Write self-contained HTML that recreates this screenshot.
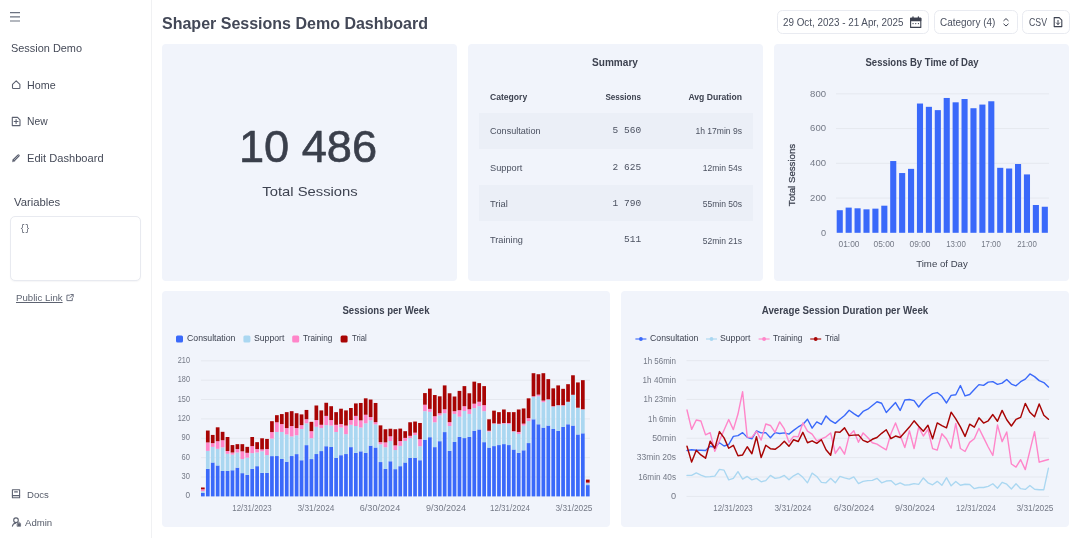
<!DOCTYPE html><html lang="en"><head><meta charset="utf-8"><title>Shaper Sessions Demo Dashboard</title><style>
*{box-sizing:border-box;margin:0;padding:0}
html,body{width:1080px;height:538px;overflow:hidden;background:#fff}
body{font-family:"Liberation Sans", sans-serif;color:#454a58;position:relative}
.t{position:absolute;white-space:nowrap}
.side{position:absolute;left:0;top:0;width:152px;height:538px;background:#fff;border-right:1px solid #f0f1f3}
.card{position:absolute;background:#f1f4fb;border-radius:4px;box-shadow:none}
.btn{position:absolute;top:10px;height:24px;border:1px solid #e9ebf1;border-radius:5.5px;background:#fff}
.abs{position:absolute}
svg{position:absolute;left:0;top:0;overflow:visible}
</style></head><body>
<div class="side">
<svg width="152" height="538" viewBox="0 0 152 538" fill="none" stroke="#5c6170" stroke-width="1.1" stroke-linecap="round" stroke-linejoin="round">
<path d="M10 12.6H20M10 16.8H20M10 21H20" stroke="#6b7280" stroke-width="1.2" stroke-linecap="butt"/>
<path d="M12.5 84.3L16.2 80.9L19.9 84.3V87.7Q19.9 88.5 19.1 88.5H13.3Q12.5 88.5 12.5 87.7Z"/>
<path d="M12.3 117.4H17.6L20 119.8V125.6H12.3Z"/><path d="M16.1 119.6V123.4M14.2 121.5H18"/>
<path d="M14 160L18.4 155.6" stroke-width="2.7"/><path d="M14 160L18.4 155.6" stroke="#b4b8c2" stroke-width="0.8"/><path d="M12.5 161.5L13 159.6L14.4 161Z" fill="#5c6170" stroke-width="0.5"/>
<path d="M69.5 295.2H66.9V300.6H72.3V298.2M70.8 294.5H73.2V296.9M73 294.7L69.7 298" stroke-width="0.95" stroke="#666c7a"/>
<path d="M12.4 489.8H19.6V497.8H12.4Z"/><path d="M12.4 495.6H19.6M14.6 491.9H17.4"/>
<circle cx="16" cy="520.2" r="2.3"/><path d="M12.4 526.2C12.8 524.2 14 523.2 15.6 523.2"/><path d="M17.4 523.6H20.6V526.3H17.4Z" fill="#5c6170" stroke-width="0.6"/><path d="M18.2 523.4V522.9a0.8 0.8 0 0 1 1.6 0V523.4" stroke-width="0.7"/>
</svg>
<div class="t" style="top:42.81px;font-size:11.8px;line-height:11.8px;color:#454a58;left:11.00px;transform:scaleX(0.9255);transform-origin:left center;">Session Demo</div>
<div class="t" style="top:79.99px;font-size:11px;line-height:11px;color:#454a58;left:27.20px;transform:scaleX(0.9747);transform-origin:left center;">Home</div>
<div class="t" style="top:116.49px;font-size:11px;line-height:11px;color:#454a58;left:27.20px;transform:scaleX(0.9357);transform-origin:left center;">New</div>
<div class="t" style="top:152.89px;font-size:11px;line-height:11px;color:#454a58;left:27.20px;transform:scaleX(1.0102);transform-origin:left center;">Edit Dashboard</div>
<div class="t" style="top:196.77px;font-size:11.5px;line-height:11.5px;color:#454a58;left:13.60px;transform:scaleX(0.9810);transform-origin:left center;">Variables</div>
<div class="abs" style="left:10px;top:216px;width:131px;height:64.5px;border:1px solid #e8eaf0;border-radius:5px;background:#fff;box-shadow:0 1px 1.5px rgba(20,30,60,0.04)"></div>
<div class="t" style="top:223.81px;font-size:9.2px;line-height:9.2px;color:#4b5160;font-family:'Liberation Mono', monospace;left:20.40px;transform:scaleX(0.8884);transform-origin:left center;">{}</div>
<div class="t" style="top:293.17px;font-size:9.6px;line-height:9.6px;color:#5d6371;left:16.10px;text-decoration:underline;text-underline-offset:1.4px;text-decoration-thickness:0.8px;transform:scaleX(1.0042);transform-origin:left center;">Public Link</div>
<div class="t" style="top:489.67px;font-size:9.6px;line-height:9.6px;color:#555b69;left:27.10px;transform:scaleX(0.9973);transform-origin:left center;">Docs</div>
<div class="t" style="top:517.67px;font-size:9.6px;line-height:9.6px;color:#555b69;left:24.60px;transform:scaleX(0.9999);transform-origin:left center;">Admin</div>
</div>
<div class="t" style="top:15.86px;font-size:16px;line-height:16px;color:#434857;font-weight:700;left:162.30px;transform:scaleX(1.0005);transform-origin:left center;">Shaper Sessions Demo Dashboard</div>
<div class="btn" style="left:777px;width:152px"></div>
<div class="btn" style="left:934px;width:84px"></div>
<div class="btn" style="left:1022px;width:47.5px"></div>
<div class="t" style="top:17.98px;font-size:10.3px;line-height:10.3px;color:#4b5160;left:783.00px;transform:scaleX(0.9567);transform-origin:left center;">29 Oct, 2023 - 21 Apr, 2025</div>
<div class="t" style="top:17.98px;font-size:10.3px;line-height:10.3px;color:#4b5160;left:940.00px;transform:scaleX(0.9662);transform-origin:left center;">Category (4)</div>
<div class="t" style="top:17.98px;font-size:10.3px;line-height:10.3px;color:#4b5160;left:1029.00px;transform:scaleX(0.8496);transform-origin:left center;">CSV</div>
<svg width="1080" height="40" viewBox="0 0 1080 40" fill="none" stroke="#3d4250" stroke-width="1.1" stroke-linecap="round" stroke-linejoin="round">
<path d="M910.6 18.4H920.8V27.4H910.6Z"/><path d="M910.6 20.6H920.8V18.4H910.6Z" fill="#3d4250"/><path d="M913 16.9V18.6M918.4 16.9V18.6" stroke-width="1.3"/><path d="M913 23.6h0.1M915.7 23.6h0.1M918.4 23.6h0.1" stroke-width="1.2"/>
<path d="M1003.8 20.6L1006 18.6L1008.2 20.6M1003.8 24L1006 26L1008.2 24" stroke-width="1"/>
<path d="M1054.2 17.6H1059.2L1061.8 20.2V26.6H1054.2Z"/><path d="M1058 20.4V24.4M1056.4 22.9L1058 24.5L1059.6 22.9" stroke-width="1"/>
</svg>
<div class="card" style="left:162px;top:44px;width:295px;height:237px"></div>
<div class="card" style="left:468px;top:44px;width:295px;height:237px"></div>
<div class="card" style="left:774px;top:44px;width:295px;height:237px"></div>
<div class="card" style="left:162px;top:291px;width:448px;height:236px"></div>
<div class="card" style="left:621px;top:291px;width:448px;height:236px"></div>
<div class="t" style="top:125.15px;font-size:44px;line-height:44px;color:#3a3f4b;left:108.30px;width:400px;text-align:center;-webkit-text-stroke:0.6px #3a3f4b;transform:scaleX(1.0269);transform-origin:center center;">10 486</div>
<div class="t" style="top:185.43px;font-size:13.2px;line-height:13.2px;color:#3d4250;left:110.00px;width:400px;text-align:center;transform:scaleX(1.1231);transform-origin:center center;">Total Sessions</div>
<div class="t" style="top:57.73px;font-size:10px;line-height:10px;color:#3d4250;font-weight:700;left:415.30px;width:400px;text-align:center;transform:scaleX(1.0071);transform-origin:center center;">Summary</div>
<div class="abs" style="left:479px;top:112.5px;width:274px;height:36.4px;background:#ebeff7"></div>
<div class="abs" style="left:479px;top:185px;width:274px;height:36.4px;background:#ebeff7"></div>
<div class="t" style="top:91.64px;font-size:9.4px;line-height:9.4px;color:#3d4250;font-weight:700;left:489.70px;transform:scaleX(0.9153);transform-origin:left center;">Category</div>
<div class="t" style="top:91.64px;font-size:9.4px;line-height:9.4px;color:#3d4250;font-weight:700;left:241.10px;width:400px;text-align:right;transform:scaleX(0.8647);transform-origin:right center;">Sessions</div>
<div class="t" style="top:91.64px;font-size:9.4px;line-height:9.4px;color:#3d4250;font-weight:700;left:341.60px;width:400px;text-align:right;transform:scaleX(0.9160);transform-origin:right center;">Avg Duration</div>
<div class="t" style="top:126.17px;font-size:9.6px;line-height:9.6px;color:#4b5160;left:489.70px;transform:scaleX(0.9467);transform-origin:left center;">Consultation</div>
<div class="t" style="top:126.26px;font-size:9.5px;line-height:9.5px;color:#4b5160;font-family:'Liberation Mono', monospace;left:241.10px;width:400px;text-align:right;">5 560</div>
<div class="t" style="top:126.34px;font-size:9.4px;line-height:9.4px;color:#4b5160;left:341.60px;width:400px;text-align:right;transform:scaleX(0.9123);transform-origin:right center;">1h 17min 9s</div>
<div class="t" style="top:162.57px;font-size:9.6px;line-height:9.6px;color:#4b5160;left:489.70px;transform:scaleX(0.9610);transform-origin:left center;">Support</div>
<div class="t" style="top:162.66px;font-size:9.5px;line-height:9.5px;color:#4b5160;font-family:'Liberation Mono', monospace;left:241.10px;width:400px;text-align:right;">2 625</div>
<div class="t" style="top:162.74px;font-size:9.4px;line-height:9.4px;color:#4b5160;left:341.60px;width:400px;text-align:right;transform:scaleX(0.9083);transform-origin:right center;">12min 54s</div>
<div class="t" style="top:198.97px;font-size:9.6px;line-height:9.6px;color:#4b5160;left:489.70px;transform:scaleX(0.9720);transform-origin:left center;">Trial</div>
<div class="t" style="top:199.06px;font-size:9.5px;line-height:9.5px;color:#4b5160;font-family:'Liberation Mono', monospace;left:241.10px;width:400px;text-align:right;">1 790</div>
<div class="t" style="top:199.14px;font-size:9.4px;line-height:9.4px;color:#4b5160;left:341.60px;width:400px;text-align:right;transform:scaleX(0.9083);transform-origin:right center;">55min 50s</div>
<div class="t" style="top:235.37px;font-size:9.6px;line-height:9.6px;color:#4b5160;left:489.70px;transform:scaleX(0.9588);transform-origin:left center;">Training</div>
<div class="t" style="top:235.46px;font-size:9.5px;line-height:9.5px;color:#4b5160;font-family:'Liberation Mono', monospace;left:241.10px;width:400px;text-align:right;">511</div>
<div class="t" style="top:235.54px;font-size:9.4px;line-height:9.4px;color:#4b5160;left:341.60px;width:400px;text-align:right;transform:scaleX(0.9083);transform-origin:right center;">52min 21s</div>
<div class="t" style="top:57.73px;font-size:10px;line-height:10px;color:#3d4250;font-weight:700;left:721.50px;width:400px;text-align:center;transform:scaleX(0.9516);transform-origin:center center;">Sessions By Time of Day</div>
<svg width="1080" height="538" viewBox="0 0 1080 538"><path d="M836 198.05H1049" stroke="#e5e8ef" stroke-width="1"/><path d="M836 163.30H1049" stroke="#e5e8ef" stroke-width="1"/><path d="M836 128.55H1049" stroke="#e5e8ef" stroke-width="1"/><path d="M836 93.80H1049" stroke="#e5e8ef" stroke-width="1"/><rect x="836.70" y="210.21" width="6.1" height="22.59" fill="#3a69fa"/><rect x="845.62" y="207.61" width="6.1" height="25.19" fill="#3a69fa"/><rect x="854.53" y="208.30" width="6.1" height="24.50" fill="#3a69fa"/><rect x="863.45" y="209.34" width="6.1" height="23.46" fill="#3a69fa"/><rect x="872.36" y="208.65" width="6.1" height="24.15" fill="#3a69fa"/><rect x="881.28" y="205.70" width="6.1" height="27.10" fill="#3a69fa"/><rect x="890.19" y="161.04" width="6.1" height="71.76" fill="#3a69fa"/><rect x="899.11" y="173.03" width="6.1" height="59.77" fill="#3a69fa"/><rect x="908.02" y="168.86" width="6.1" height="63.94" fill="#3a69fa"/><rect x="916.94" y="103.53" width="6.1" height="129.27" fill="#3a69fa"/><rect x="925.85" y="106.83" width="6.1" height="125.97" fill="#3a69fa"/><rect x="934.77" y="110.13" width="6.1" height="122.67" fill="#3a69fa"/><rect x="943.68" y="97.97" width="6.1" height="134.83" fill="#3a69fa"/><rect x="952.60" y="102.31" width="6.1" height="130.49" fill="#3a69fa"/><rect x="961.51" y="99.01" width="6.1" height="133.79" fill="#3a69fa"/><rect x="970.43" y="108.22" width="6.1" height="124.58" fill="#3a69fa"/><rect x="979.34" y="104.57" width="6.1" height="128.23" fill="#3a69fa"/><rect x="988.25" y="101.27" width="6.1" height="131.53" fill="#3a69fa"/><rect x="997.17" y="167.82" width="6.1" height="64.98" fill="#3a69fa"/><rect x="1006.09" y="168.51" width="6.1" height="64.29" fill="#3a69fa"/><rect x="1015.00" y="164.00" width="6.1" height="68.80" fill="#3a69fa"/><rect x="1023.91" y="174.42" width="6.1" height="58.38" fill="#3a69fa"/><rect x="1032.83" y="205.00" width="6.1" height="27.80" fill="#3a69fa"/><rect x="1041.75" y="206.74" width="6.1" height="26.06" fill="#3a69fa"/></svg>
<div class="t" style="top:228.60px;font-size:8.5px;line-height:8.5px;color:#747986;left:425.60px;width:400px;text-align:right;transform:scaleX(1.0772);transform-origin:right center;">0</div>
<div class="t" style="top:193.85px;font-size:8.5px;line-height:8.5px;color:#747986;left:425.60px;width:400px;text-align:right;transform:scaleX(1.1207);transform-origin:right center;">200</div>
<div class="t" style="top:159.10px;font-size:8.5px;line-height:8.5px;color:#747986;left:425.60px;width:400px;text-align:right;transform:scaleX(1.1207);transform-origin:right center;">400</div>
<div class="t" style="top:124.35px;font-size:8.5px;line-height:8.5px;color:#747986;left:425.60px;width:400px;text-align:right;transform:scaleX(1.1207);transform-origin:right center;">600</div>
<div class="t" style="top:89.60px;font-size:8.5px;line-height:8.5px;color:#747986;left:425.60px;width:400px;text-align:right;transform:scaleX(1.1207);transform-origin:right center;">800</div>
<div class="t" style="top:240.40px;font-size:8.5px;line-height:8.5px;color:#747986;left:648.66px;width:400px;text-align:center;transform:scaleX(0.9868);transform-origin:center center;">01:00</div>
<div class="t" style="top:240.40px;font-size:8.5px;line-height:8.5px;color:#747986;left:684.33px;width:400px;text-align:center;transform:scaleX(0.9868);transform-origin:center center;">05:00</div>
<div class="t" style="top:240.40px;font-size:8.5px;line-height:8.5px;color:#747986;left:719.99px;width:400px;text-align:center;transform:scaleX(0.9868);transform-origin:center center;">09:00</div>
<div class="t" style="top:240.40px;font-size:8.5px;line-height:8.5px;color:#747986;left:755.64px;width:400px;text-align:center;transform:scaleX(0.9257);transform-origin:center center;">13:00</div>
<div class="t" style="top:240.40px;font-size:8.5px;line-height:8.5px;color:#747986;left:791.30px;width:400px;text-align:center;transform:scaleX(0.9257);transform-origin:center center;">17:00</div>
<div class="t" style="top:240.40px;font-size:8.5px;line-height:8.5px;color:#747986;left:826.96px;width:400px;text-align:center;transform:scaleX(0.9257);transform-origin:center center;">21:00</div>
<div class="t" style="top:258.90px;font-size:9.8px;line-height:9.8px;color:#3d4250;left:742.20px;width:400px;text-align:center;transform:scaleX(0.9837);transform-origin:center center;">Time of Day</div>
<div class="t" style="left:692px;top:169.3px;width:200px;text-align:center;font-size:9.8px;line-height:12px;color:#3d4250;-webkit-text-stroke:0.25px #3d4250;transform:rotate(-90deg) scaleX(0.9878)">Total Sessions</div>
<div class="t" style="top:305.54px;font-size:10px;line-height:10px;color:#3d4250;font-weight:700;left:186.00px;width:400px;text-align:center;transform:scaleX(0.9562);transform-origin:center center;">Sessions per Week</div>
<svg width="1080" height="538" viewBox="0 0 1080 538"><path d="M201 477.03H590" stroke="#e5e8ef" stroke-width="1"/><path d="M201 457.66H590" stroke="#e5e8ef" stroke-width="1"/><path d="M201 438.29H590" stroke="#e5e8ef" stroke-width="1"/><path d="M201 418.92H590" stroke="#e5e8ef" stroke-width="1"/><path d="M201 399.54H590" stroke="#e5e8ef" stroke-width="1"/><path d="M201 380.17H590" stroke="#e5e8ef" stroke-width="1"/><path d="M201 360.80H590" stroke="#e5e8ef" stroke-width="1"/><rect x="201.00" y="492.98" width="3.7" height="3.42" fill="#3a69fa"/><rect x="201.00" y="491.23" width="3.7" height="1.74" fill="#aad7f1"/><rect x="201.00" y="489.30" width="3.7" height="1.94" fill="#ff85c9"/><rect x="201.00" y="487.49" width="3.7" height="1.81" fill="#a80404"/><rect x="205.94" y="468.89" width="3.7" height="27.51" fill="#3a69fa"/><rect x="205.94" y="450.88" width="3.7" height="18.02" fill="#aad7f1"/><rect x="205.94" y="442.42" width="3.7" height="8.46" fill="#ff85c9"/><rect x="205.94" y="430.54" width="3.7" height="11.88" fill="#a80404"/><rect x="210.87" y="462.50" width="3.7" height="33.90" fill="#3a69fa"/><rect x="210.87" y="446.87" width="3.7" height="15.63" fill="#aad7f1"/><rect x="210.87" y="443.13" width="3.7" height="3.75" fill="#ff85c9"/><rect x="210.87" y="434.93" width="3.7" height="8.20" fill="#a80404"/><rect x="215.81" y="465.47" width="3.7" height="30.93" fill="#3a69fa"/><rect x="215.81" y="448.81" width="3.7" height="16.66" fill="#aad7f1"/><rect x="215.81" y="441.19" width="3.7" height="7.62" fill="#ff85c9"/><rect x="215.81" y="427.31" width="3.7" height="13.88" fill="#a80404"/><rect x="220.74" y="470.96" width="3.7" height="25.44" fill="#3a69fa"/><rect x="220.74" y="447.33" width="3.7" height="23.63" fill="#aad7f1"/><rect x="220.74" y="440.22" width="3.7" height="7.10" fill="#ff85c9"/><rect x="220.74" y="431.83" width="3.7" height="8.39" fill="#a80404"/><rect x="225.68" y="470.96" width="3.7" height="25.44" fill="#3a69fa"/><rect x="225.68" y="453.78" width="3.7" height="17.18" fill="#aad7f1"/><rect x="225.68" y="451.01" width="3.7" height="2.78" fill="#ff85c9"/><rect x="225.68" y="437.00" width="3.7" height="14.01" fill="#a80404"/><rect x="230.61" y="470.25" width="3.7" height="26.15" fill="#3a69fa"/><rect x="230.61" y="454.62" width="3.7" height="15.63" fill="#aad7f1"/><rect x="230.61" y="452.49" width="3.7" height="2.13" fill="#ff85c9"/><rect x="230.61" y="445.07" width="3.7" height="7.43" fill="#a80404"/><rect x="235.54" y="467.67" width="3.7" height="28.73" fill="#3a69fa"/><rect x="235.54" y="452.49" width="3.7" height="15.17" fill="#aad7f1"/><rect x="235.54" y="449.07" width="3.7" height="3.42" fill="#ff85c9"/><rect x="235.54" y="444.16" width="3.7" height="4.91" fill="#a80404"/><rect x="240.48" y="473.15" width="3.7" height="23.25" fill="#3a69fa"/><rect x="240.48" y="459.08" width="3.7" height="14.08" fill="#aad7f1"/><rect x="240.48" y="451.33" width="3.7" height="7.75" fill="#ff85c9"/><rect x="240.48" y="444.16" width="3.7" height="7.17" fill="#a80404"/><rect x="245.41" y="474.83" width="3.7" height="21.57" fill="#3a69fa"/><rect x="245.41" y="457.66" width="3.7" height="17.18" fill="#aad7f1"/><rect x="245.41" y="452.82" width="3.7" height="4.84" fill="#ff85c9"/><rect x="245.41" y="446.87" width="3.7" height="5.94" fill="#a80404"/><rect x="250.35" y="468.89" width="3.7" height="27.51" fill="#3a69fa"/><rect x="250.35" y="453.14" width="3.7" height="15.76" fill="#aad7f1"/><rect x="250.35" y="446.10" width="3.7" height="7.04" fill="#ff85c9"/><rect x="250.35" y="437.00" width="3.7" height="9.10" fill="#a80404"/><rect x="255.28" y="466.18" width="3.7" height="30.22" fill="#3a69fa"/><rect x="255.28" y="452.49" width="3.7" height="13.69" fill="#aad7f1"/><rect x="255.28" y="449.07" width="3.7" height="3.42" fill="#ff85c9"/><rect x="255.28" y="442.16" width="3.7" height="6.91" fill="#a80404"/><rect x="260.22" y="472.90" width="3.7" height="23.50" fill="#3a69fa"/><rect x="260.22" y="451.33" width="3.7" height="21.57" fill="#aad7f1"/><rect x="260.22" y="449.39" width="3.7" height="1.94" fill="#ff85c9"/><rect x="260.22" y="438.29" width="3.7" height="11.11" fill="#a80404"/><rect x="265.15" y="472.90" width="3.7" height="23.50" fill="#3a69fa"/><rect x="265.15" y="455.08" width="3.7" height="17.82" fill="#aad7f1"/><rect x="265.15" y="449.07" width="3.7" height="6.01" fill="#ff85c9"/><rect x="265.15" y="438.93" width="3.7" height="10.14" fill="#a80404"/><rect x="270.09" y="456.11" width="3.7" height="40.29" fill="#3a69fa"/><rect x="270.09" y="438.55" width="3.7" height="17.56" fill="#aad7f1"/><rect x="270.09" y="432.09" width="3.7" height="6.46" fill="#ff85c9"/><rect x="270.09" y="421.18" width="3.7" height="10.91" fill="#a80404"/><rect x="275.02" y="456.04" width="3.7" height="40.36" fill="#3a69fa"/><rect x="275.02" y="431.96" width="3.7" height="24.08" fill="#aad7f1"/><rect x="275.02" y="422.27" width="3.7" height="9.69" fill="#ff85c9"/><rect x="275.02" y="415.17" width="3.7" height="7.10" fill="#a80404"/><rect x="279.96" y="459.01" width="3.7" height="37.39" fill="#3a69fa"/><rect x="279.96" y="431.96" width="3.7" height="27.05" fill="#aad7f1"/><rect x="279.96" y="424.08" width="3.7" height="7.88" fill="#ff85c9"/><rect x="279.96" y="414.07" width="3.7" height="10.01" fill="#a80404"/><rect x="284.89" y="461.73" width="3.7" height="34.67" fill="#3a69fa"/><rect x="284.89" y="434.48" width="3.7" height="27.25" fill="#aad7f1"/><rect x="284.89" y="428.08" width="3.7" height="6.39" fill="#ff85c9"/><rect x="284.89" y="412.14" width="3.7" height="15.95" fill="#a80404"/><rect x="289.83" y="456.04" width="3.7" height="40.36" fill="#3a69fa"/><rect x="289.83" y="436.41" width="3.7" height="19.63" fill="#aad7f1"/><rect x="289.83" y="426.02" width="3.7" height="10.40" fill="#ff85c9"/><rect x="289.83" y="411.17" width="3.7" height="14.85" fill="#a80404"/><rect x="294.76" y="454.11" width="3.7" height="42.29" fill="#3a69fa"/><rect x="294.76" y="435.25" width="3.7" height="18.85" fill="#aad7f1"/><rect x="294.76" y="428.08" width="3.7" height="7.17" fill="#ff85c9"/><rect x="294.76" y="413.23" width="3.7" height="14.85" fill="#a80404"/><rect x="299.70" y="460.24" width="3.7" height="36.16" fill="#3a69fa"/><rect x="299.70" y="428.99" width="3.7" height="31.25" fill="#aad7f1"/><rect x="299.70" y="425.11" width="3.7" height="3.87" fill="#ff85c9"/><rect x="299.70" y="414.40" width="3.7" height="10.72" fill="#a80404"/><rect x="304.63" y="445.13" width="3.7" height="51.27" fill="#3a69fa"/><rect x="304.63" y="423.31" width="3.7" height="21.82" fill="#aad7f1"/><rect x="304.63" y="419.17" width="3.7" height="4.13" fill="#ff85c9"/><rect x="304.63" y="409.94" width="3.7" height="9.23" fill="#a80404"/><rect x="309.57" y="459.08" width="3.7" height="37.32" fill="#3a69fa"/><rect x="309.57" y="438.22" width="3.7" height="20.86" fill="#aad7f1"/><rect x="309.57" y="431.18" width="3.7" height="7.04" fill="#ff85c9"/><rect x="309.57" y="421.82" width="3.7" height="9.36" fill="#a80404"/><rect x="314.50" y="454.04" width="3.7" height="42.36" fill="#3a69fa"/><rect x="314.50" y="426.73" width="3.7" height="27.31" fill="#aad7f1"/><rect x="314.50" y="420.08" width="3.7" height="6.65" fill="#ff85c9"/><rect x="314.50" y="405.49" width="3.7" height="14.59" fill="#a80404"/><rect x="319.44" y="451.07" width="3.7" height="45.33" fill="#3a69fa"/><rect x="319.44" y="428.08" width="3.7" height="22.99" fill="#aad7f1"/><rect x="319.44" y="424.79" width="3.7" height="3.29" fill="#ff85c9"/><rect x="319.44" y="410.39" width="3.7" height="14.40" fill="#a80404"/><rect x="324.38" y="446.23" width="3.7" height="50.17" fill="#3a69fa"/><rect x="324.38" y="425.11" width="3.7" height="21.11" fill="#aad7f1"/><rect x="324.38" y="415.88" width="3.7" height="9.23" fill="#ff85c9"/><rect x="324.38" y="402.77" width="3.7" height="13.11" fill="#a80404"/><rect x="329.31" y="447.00" width="3.7" height="49.40" fill="#3a69fa"/><rect x="329.31" y="425.57" width="3.7" height="21.44" fill="#aad7f1"/><rect x="329.31" y="420.08" width="3.7" height="5.49" fill="#ff85c9"/><rect x="329.31" y="406.20" width="3.7" height="13.88" fill="#a80404"/><rect x="334.25" y="457.98" width="3.7" height="38.42" fill="#3a69fa"/><rect x="334.25" y="431.96" width="3.7" height="26.02" fill="#aad7f1"/><rect x="334.25" y="424.79" width="3.7" height="7.17" fill="#ff85c9"/><rect x="334.25" y="412.14" width="3.7" height="12.66" fill="#a80404"/><rect x="339.18" y="455.20" width="3.7" height="41.20" fill="#3a69fa"/><rect x="339.18" y="427.50" width="3.7" height="27.70" fill="#aad7f1"/><rect x="339.18" y="424.08" width="3.7" height="3.42" fill="#ff85c9"/><rect x="339.18" y="408.71" width="3.7" height="15.37" fill="#a80404"/><rect x="344.12" y="454.04" width="3.7" height="42.36" fill="#3a69fa"/><rect x="344.12" y="434.15" width="3.7" height="19.89" fill="#aad7f1"/><rect x="344.12" y="425.57" width="3.7" height="8.59" fill="#ff85c9"/><rect x="344.12" y="410.39" width="3.7" height="15.17" fill="#a80404"/><rect x="349.05" y="447.13" width="3.7" height="49.27" fill="#3a69fa"/><rect x="349.05" y="424.79" width="3.7" height="22.34" fill="#aad7f1"/><rect x="349.05" y="420.08" width="3.7" height="4.71" fill="#ff85c9"/><rect x="349.05" y="408.00" width="3.7" height="12.07" fill="#a80404"/><rect x="353.99" y="452.82" width="3.7" height="43.58" fill="#3a69fa"/><rect x="353.99" y="426.02" width="3.7" height="26.80" fill="#aad7f1"/><rect x="353.99" y="415.88" width="3.7" height="10.14" fill="#ff85c9"/><rect x="353.99" y="403.42" width="3.7" height="12.46" fill="#a80404"/><rect x="358.92" y="451.33" width="3.7" height="45.07" fill="#3a69fa"/><rect x="358.92" y="427.50" width="3.7" height="23.83" fill="#aad7f1"/><rect x="358.92" y="420.34" width="3.7" height="7.17" fill="#ff85c9"/><rect x="358.92" y="402.97" width="3.7" height="17.37" fill="#a80404"/><rect x="363.86" y="452.82" width="3.7" height="43.58" fill="#3a69fa"/><rect x="363.86" y="423.31" width="3.7" height="29.51" fill="#aad7f1"/><rect x="363.86" y="414.72" width="3.7" height="8.59" fill="#ff85c9"/><rect x="363.86" y="398.32" width="3.7" height="16.40" fill="#a80404"/><rect x="368.79" y="445.65" width="3.7" height="50.75" fill="#3a69fa"/><rect x="368.79" y="420.34" width="3.7" height="25.31" fill="#aad7f1"/><rect x="368.79" y="417.04" width="3.7" height="3.29" fill="#ff85c9"/><rect x="368.79" y="399.54" width="3.7" height="17.50" fill="#a80404"/><rect x="373.73" y="447.52" width="3.7" height="48.88" fill="#3a69fa"/><rect x="373.73" y="424.34" width="3.7" height="23.18" fill="#aad7f1"/><rect x="373.73" y="422.14" width="3.7" height="2.20" fill="#ff85c9"/><rect x="373.73" y="402.97" width="3.7" height="19.18" fill="#a80404"/><rect x="378.66" y="462.05" width="3.7" height="34.35" fill="#3a69fa"/><rect x="378.66" y="444.29" width="3.7" height="17.76" fill="#aad7f1"/><rect x="378.66" y="442.16" width="3.7" height="2.13" fill="#ff85c9"/><rect x="378.66" y="425.37" width="3.7" height="16.79" fill="#a80404"/><rect x="383.60" y="468.89" width="3.7" height="27.51" fill="#3a69fa"/><rect x="383.60" y="447.26" width="3.7" height="21.63" fill="#aad7f1"/><rect x="383.60" y="442.35" width="3.7" height="4.91" fill="#ff85c9"/><rect x="383.60" y="429.25" width="3.7" height="13.11" fill="#a80404"/><rect x="388.53" y="461.27" width="3.7" height="35.13" fill="#3a69fa"/><rect x="388.53" y="441.06" width="3.7" height="20.21" fill="#aad7f1"/><rect x="388.53" y="436.29" width="3.7" height="4.78" fill="#ff85c9"/><rect x="388.53" y="428.73" width="3.7" height="7.55" fill="#a80404"/><rect x="393.46" y="469.15" width="3.7" height="27.25" fill="#3a69fa"/><rect x="393.46" y="450.04" width="3.7" height="19.11" fill="#aad7f1"/><rect x="393.46" y="445.39" width="3.7" height="4.65" fill="#ff85c9"/><rect x="393.46" y="429.25" width="3.7" height="16.14" fill="#a80404"/><rect x="398.40" y="466.18" width="3.7" height="30.22" fill="#3a69fa"/><rect x="398.40" y="445.91" width="3.7" height="20.27" fill="#aad7f1"/><rect x="398.40" y="441.06" width="3.7" height="4.84" fill="#ff85c9"/><rect x="398.40" y="428.60" width="3.7" height="12.46" fill="#a80404"/><rect x="403.33" y="462.50" width="3.7" height="33.90" fill="#3a69fa"/><rect x="403.33" y="440.87" width="3.7" height="21.63" fill="#aad7f1"/><rect x="403.33" y="437.90" width="3.7" height="2.97" fill="#ff85c9"/><rect x="403.33" y="431.18" width="3.7" height="6.72" fill="#a80404"/><rect x="408.27" y="457.98" width="3.7" height="38.42" fill="#3a69fa"/><rect x="408.27" y="437.96" width="3.7" height="20.02" fill="#aad7f1"/><rect x="408.27" y="435.83" width="3.7" height="2.13" fill="#ff85c9"/><rect x="408.27" y="422.27" width="3.7" height="13.56" fill="#a80404"/><rect x="413.20" y="457.98" width="3.7" height="38.42" fill="#3a69fa"/><rect x="413.20" y="434.99" width="3.7" height="22.99" fill="#aad7f1"/><rect x="413.20" y="432.67" width="3.7" height="2.32" fill="#ff85c9"/><rect x="413.20" y="421.56" width="3.7" height="11.11" fill="#a80404"/><rect x="418.14" y="460.24" width="3.7" height="36.16" fill="#3a69fa"/><rect x="418.14" y="446.23" width="3.7" height="14.01" fill="#aad7f1"/><rect x="418.14" y="439.19" width="3.7" height="7.04" fill="#ff85c9"/><rect x="418.14" y="422.98" width="3.7" height="16.21" fill="#a80404"/><rect x="423.07" y="439.71" width="3.7" height="56.69" fill="#3a69fa"/><rect x="423.07" y="411.17" width="3.7" height="28.54" fill="#aad7f1"/><rect x="423.07" y="404.71" width="3.7" height="6.46" fill="#ff85c9"/><rect x="423.07" y="393.09" width="3.7" height="11.62" fill="#a80404"/><rect x="428.01" y="437.19" width="3.7" height="59.21" fill="#3a69fa"/><rect x="428.01" y="411.88" width="3.7" height="25.31" fill="#aad7f1"/><rect x="428.01" y="408.91" width="3.7" height="2.97" fill="#ff85c9"/><rect x="428.01" y="388.63" width="3.7" height="20.27" fill="#a80404"/><rect x="432.94" y="447.13" width="3.7" height="49.27" fill="#3a69fa"/><rect x="432.94" y="422.27" width="3.7" height="24.86" fill="#aad7f1"/><rect x="432.94" y="416.20" width="3.7" height="6.07" fill="#ff85c9"/><rect x="432.94" y="395.03" width="3.7" height="21.18" fill="#a80404"/><rect x="437.88" y="441.19" width="3.7" height="55.21" fill="#3a69fa"/><rect x="437.88" y="415.43" width="3.7" height="25.76" fill="#aad7f1"/><rect x="437.88" y="413.23" width="3.7" height="2.20" fill="#ff85c9"/><rect x="437.88" y="396.32" width="3.7" height="16.92" fill="#a80404"/><rect x="442.81" y="432.09" width="3.7" height="64.31" fill="#3a69fa"/><rect x="442.81" y="413.23" width="3.7" height="18.85" fill="#aad7f1"/><rect x="442.81" y="409.23" width="3.7" height="4.00" fill="#ff85c9"/><rect x="442.81" y="385.40" width="3.7" height="23.83" fill="#a80404"/><rect x="447.75" y="450.88" width="3.7" height="45.52" fill="#3a69fa"/><rect x="447.75" y="426.02" width="3.7" height="24.86" fill="#aad7f1"/><rect x="447.75" y="422.14" width="3.7" height="3.87" fill="#ff85c9"/><rect x="447.75" y="393.28" width="3.7" height="28.86" fill="#a80404"/><rect x="452.68" y="441.97" width="3.7" height="54.43" fill="#3a69fa"/><rect x="452.68" y="413.94" width="3.7" height="28.02" fill="#aad7f1"/><rect x="452.68" y="411.17" width="3.7" height="2.78" fill="#ff85c9"/><rect x="452.68" y="396.51" width="3.7" height="14.66" fill="#a80404"/><rect x="457.62" y="436.87" width="3.7" height="59.53" fill="#3a69fa"/><rect x="457.62" y="416.66" width="3.7" height="20.21" fill="#aad7f1"/><rect x="457.62" y="410.20" width="3.7" height="6.46" fill="#ff85c9"/><rect x="457.62" y="390.89" width="3.7" height="19.31" fill="#a80404"/><rect x="462.56" y="438.09" width="3.7" height="58.31" fill="#3a69fa"/><rect x="462.56" y="410.97" width="3.7" height="27.12" fill="#aad7f1"/><rect x="462.56" y="406.20" width="3.7" height="4.78" fill="#ff85c9"/><rect x="462.56" y="386.11" width="3.7" height="20.08" fill="#a80404"/><rect x="467.49" y="436.87" width="3.7" height="59.53" fill="#3a69fa"/><rect x="467.49" y="413.94" width="3.7" height="22.92" fill="#aad7f1"/><rect x="467.49" y="409.23" width="3.7" height="4.71" fill="#ff85c9"/><rect x="467.49" y="393.28" width="3.7" height="15.95" fill="#a80404"/><rect x="472.42" y="430.80" width="3.7" height="65.60" fill="#3a69fa"/><rect x="472.42" y="408.13" width="3.7" height="22.66" fill="#aad7f1"/><rect x="472.42" y="403.68" width="3.7" height="4.46" fill="#ff85c9"/><rect x="472.42" y="381.66" width="3.7" height="22.02" fill="#a80404"/><rect x="477.36" y="429.44" width="3.7" height="66.96" fill="#3a69fa"/><rect x="477.36" y="406.20" width="3.7" height="23.25" fill="#aad7f1"/><rect x="477.36" y="401.74" width="3.7" height="4.46" fill="#ff85c9"/><rect x="477.36" y="383.14" width="3.7" height="18.60" fill="#a80404"/><rect x="482.29" y="442.16" width="3.7" height="54.24" fill="#3a69fa"/><rect x="482.29" y="411.17" width="3.7" height="30.99" fill="#aad7f1"/><rect x="482.29" y="405.16" width="3.7" height="6.01" fill="#ff85c9"/><rect x="482.29" y="386.11" width="3.7" height="19.05" fill="#a80404"/><rect x="487.23" y="447.59" width="3.7" height="48.81" fill="#3a69fa"/><rect x="487.23" y="431.57" width="3.7" height="16.01" fill="#aad7f1"/><rect x="487.23" y="430.73" width="3.7" height="0.84" fill="#ff85c9"/><rect x="487.23" y="419.30" width="3.7" height="11.43" fill="#a80404"/><rect x="492.16" y="446.10" width="3.7" height="50.30" fill="#3a69fa"/><rect x="492.16" y="423.76" width="3.7" height="22.34" fill="#aad7f1"/><rect x="492.16" y="423.31" width="3.7" height="0.45" fill="#ff85c9"/><rect x="492.16" y="410.65" width="3.7" height="12.66" fill="#a80404"/><rect x="497.10" y="445.07" width="3.7" height="51.33" fill="#3a69fa"/><rect x="497.10" y="424.34" width="3.7" height="20.73" fill="#aad7f1"/><rect x="497.10" y="423.76" width="3.7" height="0.58" fill="#ff85c9"/><rect x="497.10" y="412.14" width="3.7" height="11.62" fill="#a80404"/><rect x="502.03" y="444.10" width="3.7" height="52.30" fill="#3a69fa"/><rect x="502.03" y="423.63" width="3.7" height="20.47" fill="#aad7f1"/><rect x="502.03" y="423.05" width="3.7" height="0.58" fill="#ff85c9"/><rect x="502.03" y="409.49" width="3.7" height="13.56" fill="#a80404"/><rect x="506.97" y="445.07" width="3.7" height="51.33" fill="#3a69fa"/><rect x="506.97" y="424.08" width="3.7" height="20.99" fill="#aad7f1"/><rect x="506.97" y="423.05" width="3.7" height="1.03" fill="#ff85c9"/><rect x="506.97" y="412.14" width="3.7" height="10.91" fill="#a80404"/><rect x="511.90" y="449.52" width="3.7" height="46.88" fill="#3a69fa"/><rect x="511.90" y="431.57" width="3.7" height="17.95" fill="#aad7f1"/><rect x="511.90" y="431.18" width="3.7" height="0.39" fill="#ff85c9"/><rect x="511.90" y="412.14" width="3.7" height="19.05" fill="#a80404"/><rect x="516.84" y="452.82" width="3.7" height="43.58" fill="#3a69fa"/><rect x="516.84" y="433.96" width="3.7" height="18.85" fill="#aad7f1"/><rect x="516.84" y="431.96" width="3.7" height="2.00" fill="#ff85c9"/><rect x="516.84" y="409.49" width="3.7" height="22.47" fill="#a80404"/><rect x="521.77" y="450.30" width="3.7" height="46.10" fill="#3a69fa"/><rect x="521.77" y="425.50" width="3.7" height="24.79" fill="#aad7f1"/><rect x="521.77" y="423.63" width="3.7" height="1.87" fill="#ff85c9"/><rect x="521.77" y="408.46" width="3.7" height="15.17" fill="#a80404"/><rect x="526.71" y="443.07" width="3.7" height="53.33" fill="#3a69fa"/><rect x="526.71" y="421.11" width="3.7" height="21.95" fill="#aad7f1"/><rect x="526.71" y="418.14" width="3.7" height="2.97" fill="#ff85c9"/><rect x="526.71" y="398.32" width="3.7" height="19.82" fill="#a80404"/><rect x="531.64" y="419.30" width="3.7" height="77.10" fill="#3a69fa"/><rect x="531.64" y="396.96" width="3.7" height="22.34" fill="#aad7f1"/><rect x="531.64" y="396.25" width="3.7" height="0.71" fill="#ff85c9"/><rect x="531.64" y="373.20" width="3.7" height="23.05" fill="#a80404"/><rect x="536.58" y="424.28" width="3.7" height="72.12" fill="#3a69fa"/><rect x="536.58" y="396.19" width="3.7" height="28.09" fill="#aad7f1"/><rect x="536.58" y="394.64" width="3.7" height="1.55" fill="#ff85c9"/><rect x="536.58" y="374.23" width="3.7" height="20.40" fill="#a80404"/><rect x="541.51" y="427.63" width="3.7" height="68.77" fill="#3a69fa"/><rect x="541.51" y="402.19" width="3.7" height="25.44" fill="#aad7f1"/><rect x="541.51" y="400.58" width="3.7" height="1.61" fill="#ff85c9"/><rect x="541.51" y="373.20" width="3.7" height="27.38" fill="#a80404"/><rect x="546.45" y="425.57" width="3.7" height="70.83" fill="#3a69fa"/><rect x="546.45" y="399.93" width="3.7" height="25.63" fill="#aad7f1"/><rect x="546.45" y="399.22" width="3.7" height="0.71" fill="#ff85c9"/><rect x="546.45" y="379.14" width="3.7" height="20.08" fill="#a80404"/><rect x="551.38" y="428.99" width="3.7" height="67.41" fill="#3a69fa"/><rect x="551.38" y="406.65" width="3.7" height="22.34" fill="#aad7f1"/><rect x="551.38" y="406.20" width="3.7" height="0.45" fill="#ff85c9"/><rect x="551.38" y="388.37" width="3.7" height="17.82" fill="#a80404"/><rect x="556.32" y="430.80" width="3.7" height="65.60" fill="#3a69fa"/><rect x="556.32" y="405.49" width="3.7" height="25.31" fill="#aad7f1"/><rect x="556.32" y="405.16" width="3.7" height="0.32" fill="#ff85c9"/><rect x="556.32" y="385.40" width="3.7" height="19.76" fill="#a80404"/><rect x="561.25" y="426.92" width="3.7" height="69.48" fill="#3a69fa"/><rect x="561.25" y="405.74" width="3.7" height="21.18" fill="#aad7f1"/><rect x="561.25" y="405.16" width="3.7" height="0.58" fill="#ff85c9"/><rect x="561.25" y="388.83" width="3.7" height="16.34" fill="#a80404"/><rect x="566.19" y="424.28" width="3.7" height="72.12" fill="#3a69fa"/><rect x="566.19" y="402.06" width="3.7" height="22.21" fill="#aad7f1"/><rect x="566.19" y="401.74" width="3.7" height="0.32" fill="#ff85c9"/><rect x="566.19" y="384.18" width="3.7" height="17.56" fill="#a80404"/><rect x="571.12" y="425.57" width="3.7" height="70.83" fill="#3a69fa"/><rect x="571.12" y="395.03" width="3.7" height="30.54" fill="#aad7f1"/><rect x="571.12" y="394.77" width="3.7" height="0.26" fill="#ff85c9"/><rect x="571.12" y="375.27" width="3.7" height="19.50" fill="#a80404"/><rect x="576.06" y="434.48" width="3.7" height="61.92" fill="#3a69fa"/><rect x="576.06" y="408.00" width="3.7" height="26.47" fill="#aad7f1"/><rect x="576.06" y="407.68" width="3.7" height="0.32" fill="#ff85c9"/><rect x="576.06" y="382.43" width="3.7" height="25.25" fill="#a80404"/><rect x="580.99" y="433.32" width="3.7" height="63.08" fill="#3a69fa"/><rect x="580.99" y="409.49" width="3.7" height="23.83" fill="#aad7f1"/><rect x="580.99" y="409.23" width="3.7" height="0.26" fill="#ff85c9"/><rect x="580.99" y="380.17" width="3.7" height="29.06" fill="#a80404"/><rect x="585.93" y="485.10" width="3.7" height="11.30" fill="#3a69fa"/><rect x="585.93" y="483.29" width="3.7" height="1.81" fill="#aad7f1"/><rect x="585.93" y="482.58" width="3.7" height="0.71" fill="#ff85c9"/><rect x="585.93" y="479.61" width="3.7" height="2.97" fill="#a80404"/><rect x="176" y="335.4" width="7" height="7" rx="1.5" fill="#3a69fa"/><rect x="243.4" y="335.4" width="7" height="7" rx="1.5" fill="#aad7f1"/><rect x="292.2" y="335.4" width="7" height="7" rx="1.5" fill="#ff85c9"/><rect x="340.6" y="335.4" width="7" height="7" rx="1.5" fill="#a80404"/></svg>
<div class="t" style="top:334.24px;font-size:8.7px;line-height:8.7px;color:#3d4250;left:186.60px;transform:scaleX(1.0021);transform-origin:left center;">Consultation</div>
<div class="t" style="top:334.24px;font-size:8.7px;line-height:8.7px;color:#3d4250;left:253.50px;transform:scaleX(0.9955);transform-origin:left center;">Support</div>
<div class="t" style="top:334.24px;font-size:8.7px;line-height:8.7px;color:#3d4250;left:302.80px;transform:scaleX(0.9428);transform-origin:left center;">Training</div>
<div class="t" style="top:334.24px;font-size:8.7px;line-height:8.7px;color:#3d4250;left:351.50px;transform:scaleX(0.8927);transform-origin:left center;">Trial</div>
<div class="t" style="top:492.36px;font-size:8.2px;line-height:8.2px;color:#747986;left:-209.70px;width:400px;text-align:right;transform:scaleX(1.0082);transform-origin:right center;">0</div>
<div class="t" style="top:472.99px;font-size:8.2px;line-height:8.2px;color:#747986;left:-209.70px;width:400px;text-align:right;transform:scaleX(0.9221);transform-origin:right center;">30</div>
<div class="t" style="top:453.62px;font-size:8.2px;line-height:8.2px;color:#747986;left:-209.70px;width:400px;text-align:right;transform:scaleX(0.9221);transform-origin:right center;">60</div>
<div class="t" style="top:434.25px;font-size:8.2px;line-height:8.2px;color:#747986;left:-209.70px;width:400px;text-align:right;transform:scaleX(0.9221);transform-origin:right center;">90</div>
<div class="t" style="top:414.87px;font-size:8.2px;line-height:8.2px;color:#747986;left:-209.70px;width:400px;text-align:right;transform:scaleX(0.8923);transform-origin:right center;">120</div>
<div class="t" style="top:395.50px;font-size:8.2px;line-height:8.2px;color:#747986;left:-209.70px;width:400px;text-align:right;transform:scaleX(0.8923);transform-origin:right center;">150</div>
<div class="t" style="top:376.13px;font-size:8.2px;line-height:8.2px;color:#747986;left:-209.70px;width:400px;text-align:right;transform:scaleX(0.8923);transform-origin:right center;">180</div>
<div class="t" style="top:356.76px;font-size:8.2px;line-height:8.2px;color:#747986;left:-209.70px;width:400px;text-align:right;transform:scaleX(0.8923);transform-origin:right center;">210</div>
<div class="t" style="top:503.87px;font-size:8.3px;line-height:8.3px;color:#747986;left:51.80px;width:400px;text-align:center;transform:scaleX(0.9487);transform-origin:center center;">12/31/2023</div>
<div class="t" style="top:503.87px;font-size:8.3px;line-height:8.3px;color:#747986;left:116.20px;width:400px;text-align:center;transform:scaleX(1.0021);transform-origin:center center;">3/31/2024</div>
<div class="t" style="top:503.87px;font-size:8.3px;line-height:8.3px;color:#747986;left:180.30px;width:400px;text-align:center;transform:scaleX(1.0969);transform-origin:center center;">6/30/2024</div>
<div class="t" style="top:503.87px;font-size:8.3px;line-height:8.3px;color:#747986;left:245.90px;width:400px;text-align:center;transform:scaleX(1.0834);transform-origin:center center;">9/30/2024</div>
<div class="t" style="top:503.87px;font-size:8.3px;line-height:8.3px;color:#747986;left:310.20px;width:400px;text-align:center;transform:scaleX(0.9631);transform-origin:center center;">12/31/2024</div>
<div class="t" style="top:503.87px;font-size:8.3px;line-height:8.3px;color:#747986;left:373.50px;width:400px;text-align:center;transform:scaleX(1.0021);transform-origin:center center;">3/31/2025</div>
<div class="t" style="top:305.54px;font-size:10px;line-height:10px;color:#3d4250;font-weight:700;left:645.00px;width:400px;text-align:center;transform:scaleX(0.9721);transform-origin:center center;">Average Session Duration per Week</div>
<svg width="1080" height="538" viewBox="0 0 1080 538" fill="none"><path d="M686.5 496.40H1049" stroke="#e5e8ef" stroke-width="1"/><path d="M686.5 477.01H1049" stroke="#e5e8ef" stroke-width="1"/><path d="M686.5 457.62H1049" stroke="#e5e8ef" stroke-width="1"/><path d="M686.5 438.23H1049" stroke="#e5e8ef" stroke-width="1"/><path d="M686.5 418.84H1049" stroke="#e5e8ef" stroke-width="1"/><path d="M686.5 399.45H1049" stroke="#e5e8ef" stroke-width="1"/><path d="M686.5 380.06H1049" stroke="#e5e8ef" stroke-width="1"/><path d="M686.5 360.67H1049" stroke="#e5e8ef" stroke-width="1"/><polyline points="687.00,450.48 691.63,449.73 696.27,450.18 700.90,450.18 705.54,450.48 710.17,446.31 714.80,447.20 719.44,442.74 724.07,446.01 728.71,444.52 733.34,436.34 737.97,435.60 742.61,432.62 747.24,437.38 751.88,438.87 756.51,430.83 761.14,432.92 765.78,432.62 770.41,437.83 775.05,432.62 779.68,433.51 784.31,432.92 788.95,434.11 793.58,430.39 798.22,426.96 802.85,424.43 807.48,419.23 812.12,428.15 816.75,421.90 821.39,424.43 826.02,415.95 830.65,420.71 835.29,423.39 839.92,419.23 844.56,415.51 849.19,410.30 853.82,413.57 858.46,416.55 863.09,411.49 867.73,409.23 872.36,405.51 876.99,401.79 881.63,403.27 886.26,412.50 890.90,407.44 895.53,402.53 900.16,410.42 904.80,400.00 909.43,399.55 914.07,400.60 918.70,406.99 923.33,401.04 927.97,397.02 932.60,393.60 937.24,392.56 941.87,396.28 946.50,402.98 951.14,395.39 955.77,394.76 960.41,385.54 965.04,395.95 969.67,394.46 974.31,389.55 978.94,384.64 983.58,385.39 988.21,382.11 992.84,381.67 997.48,384.35 1002.11,383.15 1006.75,379.43 1011.38,384.05 1016.01,385.83 1020.65,381.67 1025.28,379.14 1029.92,373.93 1034.55,376.61 1039.18,380.62 1043.82,382.56 1048.45,387.02" stroke="#3a69fa" stroke-width="1.4" stroke-linejoin="round" stroke-linecap="round"/><polyline points="687.00,475.39 691.63,475.39 696.27,472.86 700.90,475.09 705.54,476.88 710.17,476.58 714.80,476.13 719.44,469.43 724.07,470.18 728.71,479.85 733.34,478.36 737.97,471.67 742.61,479.11 747.24,476.43 751.88,479.85 756.51,478.36 761.14,481.79 765.78,480.60 770.41,475.39 775.05,478.36 779.68,477.62 784.31,475.39 788.95,479.85 793.58,475.83 798.22,473.45 802.85,477.32 807.48,482.83 812.12,473.15 816.75,476.43 821.39,482.38 826.02,482.83 830.65,478.36 835.29,482.83 839.92,476.43 844.56,477.92 849.19,479.11 853.82,476.88 858.46,483.57 863.09,481.34 867.73,480.60 872.36,480.30 876.99,478.36 881.63,482.83 886.26,481.04 890.90,480.60 895.53,484.76 900.16,482.83 904.80,485.06 909.43,484.76 914.07,483.57 918.70,484.32 923.33,477.92 927.97,482.83 932.60,484.76 937.24,481.34 941.87,485.36 946.50,477.62 951.14,485.80 955.77,481.55 960.41,485.27 965.04,484.23 969.67,484.52 974.31,488.69 978.94,487.50 983.58,487.50 988.21,486.31 992.84,483.78 997.48,488.24 1002.11,482.29 1006.75,484.23 1011.38,488.99 1016.01,483.78 1020.65,488.69 1025.28,489.43 1029.92,485.57 1034.55,489.29 1039.18,489.73 1043.82,489.73 1048.45,468.15" stroke="#aad7f1" stroke-width="1.35" stroke-linejoin="round" stroke-linecap="round"/><polyline points="687.00,410.00 691.63,429.35 696.27,419.97 700.90,421.01 705.54,434.85 710.17,432.62 714.80,451.22 719.44,440.65 724.07,430.09 728.71,419.52 733.34,429.64 737.97,414.02 742.61,391.70 747.24,437.08 751.88,437.38 756.51,431.13 761.14,440.06 765.78,423.99 770.41,425.48 775.05,432.32 779.68,421.90 784.31,428.90 788.95,442.29 793.58,436.34 798.22,436.79 802.85,422.95 807.48,431.13 812.12,434.11 816.75,440.80 821.39,438.87 826.02,436.79 830.65,432.92 835.29,453.45 839.92,446.76 844.56,454.20 849.19,435.60 853.82,430.83 858.46,442.29 863.09,432.92 867.73,437.50 872.36,442.71 876.99,444.20 881.63,447.17 886.26,449.85 890.90,433.78 895.53,422.92 900.16,435.27 904.80,447.62 909.43,430.80 914.07,448.66 918.70,427.08 923.33,436.01 927.97,429.32 932.60,448.66 937.24,450.15 941.87,433.78 946.50,438.99 951.14,448.21 955.77,423.36 960.41,448.51 965.04,451.49 969.67,442.41 974.31,438.69 978.94,428.27 983.58,437.65 988.21,447.02 992.84,455.51 997.48,425.00 1002.11,441.67 1006.75,431.99 1011.38,463.99 1016.01,467.11 1020.65,459.67 1025.28,469.64 1029.92,450.60 1034.55,431.70 1039.18,462.20 1043.82,460.71 1048.45,459.52" stroke="#ff85c9" stroke-width="1.4" stroke-linejoin="round" stroke-linecap="round"/><polyline points="687.00,446.31 691.63,462.08 696.27,450.18 700.90,454.94 705.54,458.21 710.17,441.25 714.80,448.24 719.44,431.58 724.07,437.83 728.71,448.24 733.34,445.27 737.97,455.68 742.61,454.94 747.24,446.76 751.88,453.75 756.51,436.79 761.14,457.62 765.78,445.27 770.41,448.69 775.05,449.29 779.68,446.01 784.31,441.25 788.95,446.31 793.58,439.76 798.22,441.55 802.85,432.32 807.48,442.74 812.12,440.80 816.75,443.33 821.39,439.76 826.02,449.73 830.65,455.24 835.29,431.88 839.92,432.32 844.56,427.86 849.19,435.60 853.82,435.15 858.46,434.85 863.09,440.36 867.73,442.26 872.36,439.29 876.99,437.50 881.63,433.33 886.26,429.76 890.90,438.69 895.53,436.01 900.16,437.50 904.80,432.29 909.43,427.08 914.07,420.83 918.70,426.34 923.33,431.25 927.97,425.30 932.60,438.69 937.24,422.92 941.87,425.60 946.50,427.83 951.14,412.20 955.77,418.87 960.41,426.90 965.04,436.43 969.67,424.23 974.31,427.20 978.94,417.83 983.58,423.04 988.21,420.80 992.84,414.55 997.48,421.25 1002.11,410.39 1006.75,419.76 1011.38,426.01 1016.01,419.32 1020.65,417.38 1025.28,403.39 1029.92,412.32 1034.55,416.79 1039.18,403.99 1043.82,415.30 1048.45,419.32" stroke="#a80404" stroke-width="1.45" stroke-linejoin="round" stroke-linecap="round"/><path d="M635.4 339H646.4" stroke="#3a69fa" stroke-width="1.1"/><circle cx="640.9" cy="339" r="1.9" fill="#3a69fa"/><path d="M706 339H717" stroke="#aad7f1" stroke-width="1.1"/><circle cx="711.5" cy="339" r="1.9" fill="#aad7f1"/><path d="M758.6 339H769.6" stroke="#ff85c9" stroke-width="1.1"/><circle cx="764.1" cy="339" r="1.9" fill="#ff85c9"/><path d="M810.2 339H821.2" stroke="#a80404" stroke-width="1.1"/><circle cx="815.7" cy="339" r="1.9" fill="#a80404"/></svg>
<div class="t" style="top:334.24px;font-size:8.7px;line-height:8.7px;color:#3d4250;left:649.90px;transform:scaleX(1.0021);transform-origin:left center;">Consultation</div>
<div class="t" style="top:334.24px;font-size:8.7px;line-height:8.7px;color:#3d4250;left:720.40px;transform:scaleX(0.9955);transform-origin:left center;">Support</div>
<div class="t" style="top:334.24px;font-size:8.7px;line-height:8.7px;color:#3d4250;left:773.10px;transform:scaleX(0.9428);transform-origin:left center;">Training</div>
<div class="t" style="top:334.24px;font-size:8.7px;line-height:8.7px;color:#3d4250;left:824.90px;transform:scaleX(0.8927);transform-origin:left center;">Trial</div>
<div class="t" style="top:492.27px;font-size:8.3px;line-height:8.3px;color:#747986;left:276.20px;width:400px;text-align:right;transform:scaleX(1.1027);transform-origin:right center;">0</div>
<div class="t" style="top:472.88px;font-size:8.3px;line-height:8.3px;color:#747986;left:276.20px;width:400px;text-align:right;transform:scaleX(0.9874);transform-origin:right center;">16min 40s</div>
<div class="t" style="top:453.49px;font-size:8.3px;line-height:8.3px;color:#747986;left:276.20px;width:400px;text-align:right;transform:scaleX(1.0266);transform-origin:right center;">33min 20s</div>
<div class="t" style="top:434.10px;font-size:8.3px;line-height:8.3px;color:#747986;left:276.20px;width:400px;text-align:right;transform:scaleX(1.0527);transform-origin:right center;">50min</div>
<div class="t" style="top:414.71px;font-size:8.3px;line-height:8.3px;color:#747986;left:276.20px;width:400px;text-align:right;transform:scaleX(0.9481);transform-origin:right center;">1h 6min</div>
<div class="t" style="top:395.32px;font-size:8.3px;line-height:8.3px;color:#747986;left:276.20px;width:400px;text-align:right;transform:scaleX(0.9519);transform-origin:right center;">1h 23min</div>
<div class="t" style="top:375.93px;font-size:8.3px;line-height:8.3px;color:#747986;left:276.20px;width:400px;text-align:right;transform:scaleX(0.9783);transform-origin:right center;">1h 40min</div>
<div class="t" style="top:356.54px;font-size:8.3px;line-height:8.3px;color:#747986;left:276.20px;width:400px;text-align:right;transform:scaleX(0.9607);transform-origin:right center;">1h 56min</div>
<div class="t" style="top:503.87px;font-size:8.3px;line-height:8.3px;color:#747986;left:532.90px;width:400px;text-align:center;transform:scaleX(0.9487);transform-origin:center center;">12/31/2023</div>
<div class="t" style="top:503.87px;font-size:8.3px;line-height:8.3px;color:#747986;left:593.00px;width:400px;text-align:center;transform:scaleX(1.0021);transform-origin:center center;">3/31/2024</div>
<div class="t" style="top:503.87px;font-size:8.3px;line-height:8.3px;color:#747986;left:653.70px;width:400px;text-align:center;transform:scaleX(1.0969);transform-origin:center center;">6/30/2024</div>
<div class="t" style="top:503.87px;font-size:8.3px;line-height:8.3px;color:#747986;left:714.80px;width:400px;text-align:center;transform:scaleX(1.0834);transform-origin:center center;">9/30/2024</div>
<div class="t" style="top:503.87px;font-size:8.3px;line-height:8.3px;color:#747986;left:775.90px;width:400px;text-align:center;transform:scaleX(0.9631);transform-origin:center center;">12/31/2024</div>
<div class="t" style="top:503.87px;font-size:8.3px;line-height:8.3px;color:#747986;left:835.30px;width:400px;text-align:center;transform:scaleX(1.0021);transform-origin:center center;">3/31/2025</div>
</body></html>
